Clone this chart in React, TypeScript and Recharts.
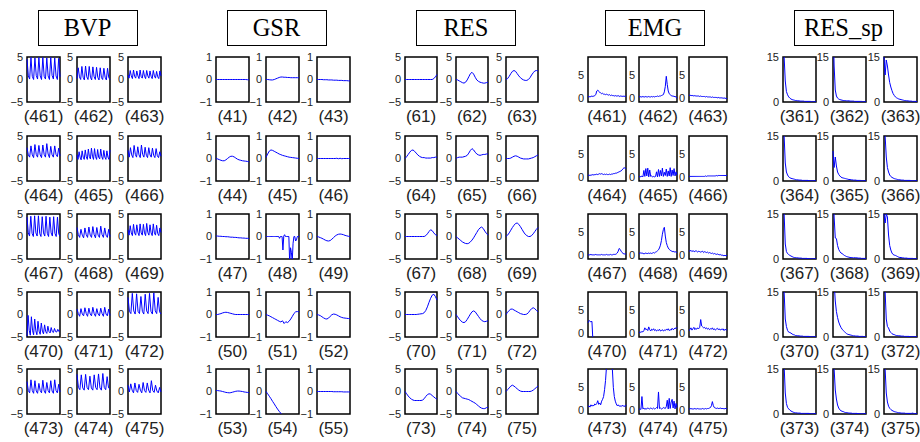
import { LineChart, Line, XAxis, YAxis, ReferenceArea } from "recharts"

// ---- BVP ----
const bvp461 = [4.5,0.8,0.1,4.9,0.7,0.0,4.8,0.9,0.1,4.9,0.8,0.0,4.9,0.7,0.1,4.8,0.8,0.0,4.9,0.9,0.1,4.8,0.8,0.0,4.7,0.6]
const bvp462 = [0.2,2.6,0.6,0.0,2.9,0.5,-0.1,3.0,0.6,0.0,2.9,0.5,-0.1,2.8,0.6,0.0,2.7,0.5,-0.1,2.6,0.4,0.0,2.5,0.5,-0.1,2.5,0.4,0.0]
const bvp463 = [1.0,0.3,2.0,0.8,0.2,2.1,0.7,0.3,1.9,0.8,0.2,2.1,0.6,0.3,2.0,0.7,0.2,2.0,0.8,0.3,1.9,0.7,0.2,2.0,0.8,0.3,1.8,0.6,0.2,1.9,0.8]
const bvp464 = [2.4,0.8,0.3,2.8,0.8,0.2,3.1,0.9,0.3,2.9,0.8,0.2,3.0,0.9,0.3,3.3,1.0,0.2,2.7,0.8,0.3,2.8,0.9,0.4,2.3,0.6]
const bvp465 = [0.8,-0.2,1.5,0.3,-0.3,1.7,0.3,-0.2,1.9,0.4,-0.2,2.1,0.4,-0.1,2.3,0.5,-0.2,2.2,0.4,-0.2,2.0,0.3,-0.1,2.1,0.4,-0.2,1.8,0.3,-0.2,1.7,0.3,-0.2,1.9]
const bvp466 = [1.8,0.3,2.4,0.8,0.2,2.9,0.9,0.3,2.6,0.8,0.2,3.0,0.9,0.3,2.5,0.7,0.2,2.4,0.8,0.3,2.3,0.7,0.2,2.2,0.6,0.2,1.5,0.5]
const bvp467 = [4.3,0.8,0.1,4.5,0.7,0.0,4.6,0.8,0.1,4.6,0.7,0.0,4.4,0.8,0.1,4.5,0.7,0.0,4.3,0.8,0.1,4.4,0.7,0.0,4.3,0.6,0.1]
const bvp468 = [2.0,0.4,-0.2,1.6,0.3,-0.3,1.9,0.4,-0.2,2.1,0.3,-0.2,2.2,0.4,-0.3,2.0,0.3,-0.2,2.3,0.4,-0.2,1.9,0.3,-0.2,1.6,0.0]
const bvp469 = [1.5,0.3,2.4,0.8,0.2,2.7,0.8,0.3,2.6,0.9,0.2,2.8,0.8,0.3,2.7,0.8,0.2,2.9,0.9,0.3,2.6,0.8,0.2,2.8,0.8,0.3,2.5,0.7,0.2,1.9,0.9]
const bvp470 = [-4.8,-0.2,-3.5,-4.6,-0.5,-3.5,-4.5,-1.0,-3.6,-4.5,-1.5,-3.7,-4.4,-1.9,-3.7,-4.3,-2.3,-3.8,-4.2,-2.6,-3.8,-4.1,-2.9,-3.8,-4.0,-3.1,-3.8,-3.9,-3.3,-3.8,-3.6]
const bvp471 = [1.2,0.2,-0.4,1.3,0.1,-0.3,1.5,0.2,-0.4,1.4,0.1,-0.3,1.6,0.2,-0.4,1.3,0.1,-0.3,1.4,0.2,-0.4,1.6,0.1,-0.3,1.2,-0.2]
const bvp472 = [3.8,0.7,0.2,4.7,0.8,0.1,4.6,0.7,0.2,4.0,0.7,0.1,4.5,0.8,0.2,4.7,0.7,0.1,4.8,0.8,0.2,3.8,0.6,0.1]
const bvp473 = [2.2,0.2,-0.3,2.6,0.2,-0.4,2.4,0.1,-0.4,1.8,0.2,-0.3,2.5,0.1,-0.4,2.0,0.2,-0.3,2.4,0.1,-0.4,2.6,0.2,-0.3,1.6,-0.1]
const bvp474 = [3.8,0.9,0.4,3.7,0.8,0.3,3.8,0.9,0.4,3.4,0.8,0.3,3.7,0.9,0.4,3.9,0.8,0.3,4.0,0.9,0.4,3.3,0.8,0.5]
const bvp475 = [1.4,-0.1,1.7,0.3,-0.3,1.9,0.2,-0.2,1.6,0.3,-0.3,2.0,0.2,-0.2,1.9,0.3,-0.3,2.4,0.2,-0.2,1.4,0.1,-0.3,0.9,-0.1]

// ---- GSR ----
const gsr41 = [0,0,0,0,0,0,0,0,0,0,0,0,0,0,0,0,0,0,0,-0.01,-0.01]
const gsr42 = [0,0,-0.01,-0.02,-0.02,0,0.03,0.06,0.09,0.11,0.11,0.1,0.1,0.09,0.09,0.08,0.08,0.08,0.08,0.08,0.08]
const gsr43 = [0,0,0,0,-0.01,-0.01,-0.01,-0.02,-0.02,-0.02,-0.03,-0.03,-0.03,-0.04,-0.04,-0.04,-0.05,-0.05,-0.05,-0.06,-0.06]
const gsr44 = [0,-0.02,-0.05,-0.08,-0.1,-0.1,-0.06,0,0.06,0.1,0.1,0.07,0.02,-0.03,-0.06,-0.08,-0.1,-0.11,-0.12,-0.13,-0.15]
const gsr45 = [0.05,0.2,0.33,0.38,0.36,0.32,0.28,0.24,0.2,0.17,0.14,0.12,0.1,0.08,0.06,0.05,0.04,0.03,0.02,0.01,0.0]
const gsr46 = [0,0,0,0,0,0,0,0,0,0,0,0,0.01,-0.01,0.01,-0.01,0,0,0,0,0]
const gsr47 = [0.02,0.02,0.01,0.01,0,0,-0.01,-0.01,-0.02,-0.03,-0.03,-0.04,-0.04,-0.05,-0.06,-0.06,-0.07,-0.07,-0.08,-0.08,-0.09]
const gsr48 = [0,0,0,0,0,0,0,0,0,0,0,0,0,0,0,0,-0.08,0,0,0,-0.6,0.02,0.08,0,0,0,0,0,-1.2,-0.5,-0.7,-1.1,-0.3,0,0,-0.2,-0.15,0,0,0]
const gsr49 = [0,-0.02,-0.05,-0.08,-0.12,-0.16,-0.19,-0.2,-0.18,-0.12,-0.05,0.02,0.07,0.1,0.11,0.1,0.08,0.05,0.03,0.01,0]
const gsr50 = [0,0,0.02,0.04,0.07,0.09,0.1,0.09,0.07,0.05,0.03,0.01,0,0,0,0,0,0,0,0,0]
const gsr51 = [0,-0.03,-0.06,-0.1,-0.14,-0.18,-0.22,-0.26,-0.3,-0.33,-0.28,-0.4,-0.32,-0.36,-0.3,-0.2,-0.08,0.05,0.12,0.13,0.12]
const gsr52 = [0,-0.02,-0.05,-0.1,-0.15,-0.19,-0.2,-0.16,-0.08,-0.01,0.02,0.01,-0.02,-0.06,-0.1,-0.13,-0.15,-0.16,-0.17,-0.18,-0.18]
const gsr53 = [0.05,0.04,0.03,0.02,0,-0.02,-0.04,-0.05,-0.06,-0.05,-0.03,-0.01,0.01,0.02,0.02,0.01,0,-0.02,-0.03,-0.04,-0.05]
const gsr54 = [0,-0.1,-0.21,-0.32,-0.44,-0.55,-0.67,-0.78,-0.88,-0.97,-1.06,-1.14,-1.22,-1.29,-1.35,-1.4,-1.45,-1.5,-1.54,-1.58,-1.6]
const gsr55 = [0,0,0,0,0,0,0,0,0,0,-0.01,-0.01,-0.01,-0.01,-0.01,-0.01,-0.02,-0.02,-0.02,-0.02,-0.02]

// ---- RES ----
const res61 = [0,0,0,0,0,0,0,0,0,0,0,0,0,0,0,0,0,0,0.2,0.6,1.1]
const res62 = [0,-0.1,-0.3,-0.5,-0.7,-0.8,-0.6,-0.1,0.6,1.3,1.6,1.2,0.5,-0.1,-0.4,-0.6,-0.7,-0.8,-0.8,-0.7,-0.6]
const res63 = [0,0.2,0.7,1.3,1.8,2.0,1.8,1.3,0.8,0.4,0.1,-0.1,-0.2,-0.2,0,0.4,1.0,1.5,1.9,2.0,1.9]
const res64 = [0,0.4,0.9,1.4,1.8,1.9,1.6,1.2,0.8,0.5,0.3,0.2,0.2,0.1,0.1,0.1,0.1,0.2,0.2,0.3,0.3]
const res65 = [0,0.2,0.3,0.3,0.3,0.4,0.5,0.7,1.2,1.8,2.2,1.9,1.4,1.0,0.8,0.7,0.8,0.9,0.9,1.0,1.0]
const res66 = [0,0,0,0.1,0.3,0.5,0.6,0.5,0.3,0.1,0,-0.1,-0.1,-0.1,-0.1,0,0.1,0.2,0.4,0.6,0.8]
const res67 = [0,0,0,0,0,0,0,0,0,0,0,0,0,0.2,0.6,1.1,1.5,1.3,0.8,0.4,0.2]
const res68 = [0,-0.3,-0.6,-0.9,-1.2,-1.4,-1.55,-1.6,-1.5,-1.2,-0.8,-0.3,0.3,0.9,1.5,1.9,2.1,1.8,1.2,0.7,0.3]
const res69 = [0,0.3,0.8,1.4,2.0,2.5,2.9,3.0,2.7,2.2,1.6,1.0,0.5,0.2,0,0,0.2,0.6,1.1,1.6,2.0]
const res70 = [0,0,0,0,0,0,0,0,0.05,0.1,0.15,0.2,0.4,0.9,1.7,2.7,3.6,4.3,4.5,4.0,3.2]
const res71 = [0,-0.5,-1.0,-1.4,-1.7,-1.8,-1.6,-1.1,-0.5,0.1,0.6,0.8,0.6,0.1,-0.4,-0.9,-1.3,-1.5,-1.6,-1.5,-1.4]
const res72 = [0,0.5,0.9,1.2,1.2,1.0,0.8,0.6,0.4,0.2,0.1,0,0,0.1,0.4,0.9,1.3,1.5,1.3,0.9,0.6]
const res73 = [0,-0.5,-1.0,-1.4,-1.7,-1.9,-2.0,-2.0,-2.0,-2.0,-2.0,-1.9,-1.6,-1.1,-0.7,-0.5,-0.6,-0.9,-1.2,-1.5,-1.7]
const res74 = [0,-0.4,-0.8,-1.1,-1.4,-1.5,-1.6,-1.7,-1.8,-2.0,-2.2,-2.4,-2.6,-2.9,-3.2,-3.5,-3.7,-3.8,-3.8,-3.6,-3.5]
const res75 = [0,0.4,0.8,1.2,1.4,1.2,0.9,0.6,0.3,0.1,0,0,0,0,0,0,0.1,0.3,0.6,0.9,1.2]

// ---- EMG ----
const emg461 = [0.3,0.4,0.3,0.4,0.5,0.4,0.5,0.6,0.8,1.6,1.8,1.5,1.3,1.2,1.0,1.1,0.9,0.9,0.8,0.9,0.8,0.7,0.8,0.6,0.7,0.6,0.6,0.5,0.6,0.5,0.5,0.6,0.4,0.5,0.5,0.4,0.5,0.4,0.5,0.4]
const emg462 = [0.3,0.4,0.3,0.3,0.4,0.3,0.3,0.4,0.3,0.3,0.4,0.3,0.3,0.4,0.3,0.4,0.3,0.4,0.4,0.5,0.4,0.5,0.5,0.6,0.7,0.8,1.4,2.6,4.8,3.0,1.6,1.0,0.8,0.6,0.5,0.5,0.4,0.4,0.3,0.0]
const emg463 = [0.6,0.7,0.6,0.6,0.6,0.5,0.6,0.5,0.5,0.5,0.5,0.4,0.5,0.4,0.4,0.4,0.4,0.3,0.4,0.3,0.3,0.3,0.3,0.2,0.3,0.2,0.2,0.2,0.2,0.1,0.2,0.1,0.1,0.1,0.1,0.0,0.1,0.0,0.0,-0.1]
const emg464 = [0.4,0.5,0.4,0.5,0.5,0.6,0.5,0.6,0.6,0.7,0.6,0.7,0.8,0.7,0.8,0.7,0.6,0.7,0.6,0.7,0.6,0.6,0.7,0.6,0.7,0.7,0.8,0.8,0.9,0.9,1.0,1.1,1.2,1.3,1.4,1.6,1.9,2.1,2.0,1.8]
const emg465 = [0.1,0.2,0.1,0.3,0.1,1.5,0.2,1.9,0.3,2.0,0.1,1.6,0.2,0.3,0.1,0.2,0.1,0.2,1.2,0.1,1.7,0.2,1.5,0.3,2.0,0.2,1.1,0.4,1.8,0.2,1.4,0.3,2.1,0.2,1.6,0.4,1.9,0.3,1.2,0.5]
const emg466 = [0.2,0.2,0.2,0.2,0.2,0.2,0.2,0.2,0.2,0.2,0.2,0.2,0.2,0.2,0.2,0.2,0.2,0.3,0.2,0.3,0.3,0.3,0.3,0.3,0.3,0.3,0.3,0.3,0.4,0.3,0.4,0.4,0.4,0.4,0.4,0.4,0.4,0.4,0.4,0.4]
const emg467 = [0.1,0.1,0.1,0.2,0.1,0.1,0.1,0.1,0.2,0.1,0.1,0.1,0.1,0.1,0.2,0.1,0.1,0.1,0.1,0.2,0.1,0.1,0.1,0.2,0.1,0.1,0.2,0.2,0.2,0.3,0.5,0.9,1.5,1.3,0.9,0.6,0.4,0.3,0.3,0.3]
const emg468 = [0.5,0.4,0.6,0.4,0.5,0.3,0.4,0.5,0.4,0.4,0.5,0.4,0.5,0.4,0.5,0.6,0.5,0.7,0.8,1.0,1.2,1.6,2.2,3.2,4.6,5.6,6.1,4.2,2.8,2.1,1.6,1.3,1.1,1.0,0.8,0.9,0.7,0.8,0.7,0.6]
const emg469 = [1.0,0.9,1.1,0.8,1.0,0.9,0.8,1.0,0.9,0.7,0.9,0.8,0.7,0.8,0.9,0.6,0.8,0.7,0.6,0.7,0.5,0.6,0.5,0.4,0.5,0.3,0.4,0.3,0.2,0.3,0.2,0.1,0.2,0.0,0.1,-0.1,0.0,-0.1,0.0,-0.1]
const emg470 = [2.3,2.8,2.5,2.6,-3,-3,-3,-3,-3,-3,-3,-3,-3,-3,-3,-3,-3,-3,-3,-3,-3,-3,-3,-3,-3,-3,-3,-3,-3,-3]
const emg471 = [0.1,0.3,0.2,0.4,0.3,0.6,1.2,0.8,0.9,0.6,1.4,0.8,0.5,0.9,0.7,1.0,0.6,0.8,0.5,0.7,0.6,0.9,0.5,0.6,0.8,0.5,0.7,0.6,0.9,0.7,1.0,0.6,0.8,0.7,1.1,0.8,0.9,1.2,1.0,1.3]
const emg472 = [0.6,0.8,1.2,0.7,1.0,1.3,0.8,1.1,0.9,1.2,1.0,1.3,3.0,1.6,1.4,1.2,1.3,1.0,1.2,0.9,1.1,0.8,1.0,0.9,1.2,0.8,1.0,0.7,0.9,1.1,0.8,1.0,0.7,0.9,0.8,1.0,0.6,0.9,0.7,0.8]
const emg473 = [0.8,1.0,0.7,1.2,0.9,1.1,1.0,1.4,1.2,1.5,2.1,1.3,1.6,1.2,2.0,2.4,3.0,4.5,6.5,9.5,12,11,12,10.5,12,9.0,5.0,3.0,2.0,1.4,1.0,1.2,0.9,1.0,0.8,1.1,0.9,1.0,0.8,1.2]
const emg474 = [0.2,0.3,0.2,3.0,0.3,0.5,0.2,0.4,0.3,0.5,0.4,0.3,0.5,0.4,0.3,0.5,0.3,0.4,0.6,0.4,4.0,0.4,0.5,0.3,0.4,0.6,0.5,0.4,0.8,2.2,0.3,2.6,0.4,1.8,2.4,0.5,2.0,0.3,1.5,0.6]
const emg475 = [0.3,0.3,0.4,0.3,0.3,0.3,0.4,0.3,0.3,0.4,0.3,0.3,0.3,0.3,0.4,0.3,0.3,0.4,0.3,0.4,0.4,0.5,0.6,1.0,1.9,1.0,0.6,0.5,0.4,0.5,0.4,0.4,0.5,0.4,0.4,0.4,0.3,0.4,0.4,0.3]

// ---- RES_sp ----
const sp361 = [28,15,7,3.5,2.4,1.7,1.3,1.0,0.8,0.7,0.6,0.5,0.5,0.4,0.4,0.3,0.3,0.3,0.3,0.2,0.2,0.2,0.2,0.2,0.2,0.1,0.1,0.1,0.1,0.1]
const sp362 = [28,12,4,2,1.3,1.0,0.8,0.7,0.6,0.5,0.5,0.5,0.4,0.4,0.4,0.3,0.3,0.3,0.3,0.2,0.2,0.2,0.2,0.2,0.2,0.2,0.1,0.1,0.1,0.1]
const sp363 = [15,9,14,12,9,6.5,5,3.8,2.8,2.2,1.7,1.4,1.2,1.0,0.9,0.8,0.7,0.6,0.5,0.5,0.4,0.4,0.3,0.3,0.3,0.2,0.2,0.2,0.2,0.1]
const sp364 = [28,15,6,3,2,1.4,1.1,0.9,0.8,0.7,0.6,0.5,0.4,0.4,0.3,0.3,0.3,0.2,0.2,0.2,0.2,0.2,0.2,0.1,0.1,0.1,0.1,0.1,0.1,0.1]
const sp365 = [10,4.5,8,5,3,2.2,1.7,1.3,1.1,1.0,0.9,0.8,0.7,0.6,0.5,0.5,0.4,0.4,0.3,0.3,0.3,0.2,0.2,0.2,0.2,0.1,0.1,0.1,0.1,0.1]
const sp366 = [28,15,8,4.5,3,2,1.5,1.2,1.0,0.8,0.7,0.6,0.5,0.4,0.4,0.3,0.3,0.3,0.2,0.2,0.2,0.2,0.2,0.2,0.1,0.1,0.1,0.1,0.1,0.1]
const sp367 = [28,15,5,2.5,1.8,1.5,1.2,1.0,0.8,0.6,0.5,0.5,0.4,0.4,0.3,0.3,0.3,0.2,0.2,0.2,0.2,0.2,0.1,0.1,0.1,0.1,0.1,0.1,0.1,0.1]
const sp368 = [28,14,7,6.8,4.5,3.2,2.5,2.0,1.8,1.5,1.2,1.0,0.8,0.7,0.6,0.5,0.5,0.5,0.4,0.5,0.4,0.4,0.3,0.3,0.3,0.2,0.2,0.2,0.2,0.2]
const sp369 = [15,12,15,14,8,4.5,3,2,1.5,1.3,1.2,1.0,0.8,0.6,0.5,0.5,0.4,0.4,0.3,0.3,0.3,0.2,0.2,0.2,0.2,0.2,0.1,0.1,0.1,0.1]
const sp370 = [28,15,6,3.5,2.2,1.6,1.5,1.3,1.0,0.8,0.7,0.5,0.5,0.4,0.4,0.3,0.3,0.3,0.2,0.2,0.2,0.2,0.2,0.2,0.1,0.1,0.1,0.1,0.1,0.1]
const sp371 = [28,18,12,8.5,6.5,5,4,3.2,2.6,2.2,1.8,1.4,1.1,0.9,0.8,0.7,0.6,0.5,0.4,0.4,0.3,0.3,0.3,0.2,0.2,0.2,0.2,0.1,0.1,0.1]
const sp372 = [28,15,6,3.5,3,2,1.5,1.1,0.9,0.8,0.6,0.5,0.5,0.4,0.4,0.3,0.3,0.3,0.2,0.2,0.2,0.2,0.2,0.1,0.1,0.1,0.1,0.1,0.1,0.1]
const sp373 = [28,16,7,3.5,2.2,1.7,1.3,1.0,0.8,0.6,0.5,0.4,0.4,0.3,0.3,0.3,0.2,0.2,0.2,0.2,0.2,0.2,0.2,0.2,0.1,0.1,0.1,0.1,0.1,0.1]
const sp374 = [28,15,8,5,3,2,1.4,1.1,0.9,0.8,0.6,0.5,0.5,0.4,0.3,0.3,0.3,0.2,0.2,0.2,0.2,0.2,0.1,0.1,0.1,0.1,0.1,0.1,0.1,0.1]
const sp375 = [28,15,7,4,2.6,1.9,1.5,1.2,1.0,0.8,0.7,0.6,0.5,0.4,0.4,0.3,0.3,0.3,0.3,0.2,0.2,0.2,0.2,0.2,0.2,0.3,0.2,0.1,0.1,0.1]

const bvpLabels = ["(461)","(462)","(463)","(464)","(465)","(466)","(467)","(468)","(469)","(470)","(471)","(472)","(473)","(474)","(475)"]
const gsrLabels = ["(41)","(42)","(43)","(44)","(45)","(46)","(47)","(48)","(49)","(50)","(51)","(52)","(53)","(54)","(55)"]
const resLabels = ["(61)","(62)","(63)","(64)","(65)","(66)","(67)","(68)","(69)","(70)","(71)","(72)","(73)","(74)","(75)"]
const emgLabels = bvpLabels
const spLabels = ["(361)","(362)","(363)","(364)","(365)","(366)","(367)","(368)","(369)","(370)","(371)","(372)","(373)","(374)","(375)"]

const groups = [
  { title: "BVP", titleX: 87.5, lefts: [27, 77, 128], w: 33, domain: [-5, 5], ticks: [-5, 0, 5], labels: bvpLabels,
    series: [bvp461, bvp462, bvp463, bvp464, bvp465, bvp466, bvp467, bvp468, bvp469, bvp470, bvp471, bvp472, bvp473, bvp474, bvp475] },
  { title: "GSR", titleX: 276.5, lefts: [216, 266, 317], w: 33, domain: [-1, 1], ticks: [-1, 0, 1], labels: gsrLabels,
    series: [gsr41, gsr42, gsr43, gsr44, gsr45, gsr46, gsr47, gsr48, gsr49, gsr50, gsr51, gsr52, gsr53, gsr54, gsr55] },
  { title: "RES", titleX: 466, lefts: [405, 456, 506], w: 32, domain: [-5, 5], ticks: [-5, 0, 5], labels: resLabels,
    series: [res61, res62, res63, res64, res65, res66, res67, res68, res69, res70, res71, res72, res73, res74, res75] },
  { title: "EMG", titleX: 655, lefts: [588, 639, 689], w: 38, domain: [-0.8, 9], ticks: [0, 5], labels: emgLabels,
    series: [emg461, emg462, emg463, emg464, emg465, emg466, emg467, emg468, emg469, emg470, emg471, emg472, emg473, emg474, emg475] },
  { title: "RES_sp", titleX: 843.5, lefts: [783, 833, 884], w: 33, domain: [0, 15], ticks: [0, 15], labels: spLabels,
    series: [sp361, sp362, sp363, sp364, sp365, sp366, sp367, sp368, sp369, sp370, sp371, sp372, sp373, sp374, sp375] },
]

const rowTops = [57, 136, 214, 292, 369]
const BOX_H = 45
const AXIS_W = 24
const SANS = "'Liberation Sans', Arial, Helvetica, sans-serif"

const minus = (t: number) => String(t).replace("-", "\u2212")

const Panel = ({ values, left, top, w, domain, ticks, label }: any) => {
  const data = values.map((v: number, i: number) => ({ i, v }))
  const n = values.length - 1
  return (
    <>
      <div style={{ position: "absolute", left: left - AXIS_W, top: top - 6 }}>
        <LineChart width={w + AXIS_W + 2} height={BOX_H + 12} data={data}
          margin={{ top: 6, right: 2, bottom: 6, left: 0 }} style={{ overflow: "visible" }}>
          <XAxis dataKey="i" type="number" domain={[0, n]} hide />
          <YAxis type="number" domain={domain} ticks={ticks} allowDataOverflow width={AXIS_W}
            axisLine={false} tickLine={false} tickSize={0} tickMargin={4} interval={0}
            tick={{ fontSize: 11, fill: "#222", fontFamily: SANS }} tickFormatter={minus} />
          <Line type="linear" dataKey="v" stroke="#0000ff" strokeWidth={1} dot={false} isAnimationActive={false} />
          <ReferenceArea x1={0} x2={n} y1={domain[0]} y2={domain[1]} fill="none" stroke="#000"
            strokeWidth={1.5} ifOverflow="visible" />
        </LineChart>
      </div>
      <div style={{ position: "absolute", left: left - 20, width: w + 40, top: top + BOX_H + 6,
        textAlign: "center", fontSize: 17, lineHeight: "18px", fontFamily: SANS, color: "#222" }}>
        {label}
      </div>
    </>
  )
}

export default function App() {
  return (
    <div style={{ position: "absolute", left: 0, top: 0, width: 920, height: 442, background: "#fff", overflow: "hidden" }}>
      {groups.map((g) => (
        <div key={g.title}>
          <div style={{ position: "absolute", left: g.titleX - 50, top: 10, width: 100, height: 36,
            boxSizing: "border-box", border: "1.3px solid #000", textAlign: "center",
            fontFamily: "'Liberation Serif', 'Times New Roman', serif", fontSize: 24.5, lineHeight: "34px" }}>
            {g.title}
          </div>
          {g.series.map((s, k) => (
            <Panel key={k} values={s} left={g.lefts[k % 3]} top={rowTops[Math.floor(k / 3)]}
              w={g.w} domain={g.domain} ticks={g.ticks} label={g.labels[k]} />
          ))}
        </div>
      ))}
    </div>
  )
}
